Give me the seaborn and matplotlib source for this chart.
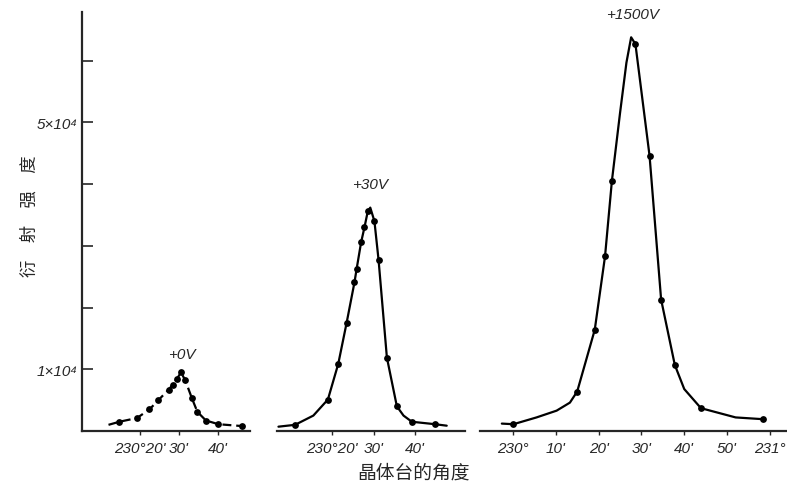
import matplotlib
matplotlib.use("Agg")
import matplotlib.pyplot as plt
import seaborn as sns
import pandas as pd

# values, x in arc-minutes after 230 deg, y in units of 1e4
v0_dot_min = [14.7, 19.2, 22.4, 24.7, 27.3, 28.4, 29.4, 30.5, 31.6, 33.3, 34.7, 36.9, 40.1, 46.1]
v0_dot_val = [0.15, 0.21, 0.35, 0.50, 0.67, 0.75, 0.84, 0.95, 0.82, 0.53, 0.31, 0.17, 0.11, 0.08]
v0_line_min = [11.9, 14.7, 19.2, 22.4, 24.7, 27.3, 28.4, 29.4, 30.5, 31.6, 33.3, 34.7, 36.9, 40.1, 46.1, 47.8]
v0_line_val = [0.10, 0.15, 0.21, 0.35, 0.50, 0.67, 0.75, 0.84, 0.95, 0.82, 0.53, 0.31, 0.17, 0.11, 0.08, 0.06]

v30_dot_min = [11.1, 19.0, 21.5, 23.5, 25.4, 25.9, 27.0, 27.8, 28.6, 30.2, 31.2, 33.2, 35.6, 39.2, 44.8]
v30_dot_val = [0.10, 0.51, 1.09, 1.75, 2.41, 2.62, 3.06, 3.30, 3.56, 3.40, 2.77, 1.19, 0.40, 0.15, 0.11]
v30_line_min = [7.1, 11.1, 15.5, 19.0, 21.5, 23.5, 25.4, 25.9, 27.0, 27.8, 28.6, 29.2, 30.2, 31.2,
                33.2, 35.6, 37.2, 39.2, 44.8, 47.6]
v30_line_val = [0.07, 0.10, 0.25, 0.51, 1.09, 1.75, 2.41, 2.62, 3.06, 3.30, 3.56, 3.62, 3.40, 2.77,
                1.19, 0.40, 0.25, 0.15, 0.11, 0.086]

v1500_dot_min = [0.1, 15.0, 19.1, 21.5, 23.1, 28.6, 31.9, 34.6, 37.8, 43.9, 58.4]
v1500_dot_val = [0.11, 0.64, 1.64, 2.83, 4.05, 6.27, 4.46, 2.13, 1.07, 0.37, 0.19]
v1500_line_min = [-2.6, 0.1, 5.5, 10.2, 13.3, 15.0, 19.1, 21.5, 23.1, 25.0, 26.5, 27.6, 28.6, 31.9,
                  34.6, 37.8, 40.0, 43.9, 52.0, 58.7]
v1500_line_val = [0.12, 0.11, 0.22, 0.33, 0.46, 0.64, 1.64, 2.83, 4.05, 5.15, 5.97, 6.38, 6.27, 4.46,
                  2.13, 1.07, 0.68, 0.37, 0.22, 0.19]

small_ticks = [20, 30, 40]
small_labels = ["230°20'", "30'", "40'"]
big_ticks = [0, 10, 20, 30, 40, 50, 60]
big_labels = ["230°", "10'", "20'", "30'", "40'", "50'", "231°"]
y_ticks = [1, 2, 3, 4, 5, 6]
y_labels = ["1×10⁴", "", "", "", "5×10⁴", ""]

sns.set_theme(style="ticks")
plt.rcParams['font.family'] = ['Liberation Sans', 'DejaVu Sans']

fig = plt.figure(figsize=(7.87, 4.89), dpi=100)
bottom, height = 57 / 489, 419 / 489
ax0 = fig.add_axes([82 / 787, bottom, 168 / 787, height])
ax1 = fig.add_axes([277 / 787, bottom, 188 / 787, height])
ax2 = fig.add_axes([480 / 787, bottom, 307 / 787, height])

panels = [
    (ax0, v0_line_min, v0_line_val, v0_dot_min, v0_dot_val, (5.1, 48.2), small_ticks, small_labels,
     (0, (4, 2.2)), "+0V", 30.8, 1.25),
    (ax1, v30_line_min, v30_line_val, v30_dot_min, v30_dot_val, (6.75, 52.0), small_ticks, small_labels,
     "-", "+30V", 29.2, 4.0),
    (ax2, v1500_line_min, v1500_line_val, v1500_dot_min, v1500_dot_val, (-7.7, 64.0), big_ticks, big_labels,
     "-", "+1500V", 28.0, 6.75),
]

for ax, lx, ly, dx, dy, xlim, ticks, labels, ls, tag, tx, ty in panels:
    line = pd.DataFrame({"m": lx, "v": ly})
    dots = pd.DataFrame({"m": dx, "v": dy})
    sns.lineplot(data=line, x="m", y="v", ax=ax, color="black", linewidth=1.6,
                 linestyle=ls, sort=False, estimator=None)
    sns.scatterplot(data=dots, x="m", y="v", ax=ax, color="black", s=24, edgecolor="black",
                    linewidth=0, zorder=3)
    ax.set_xlim(*xlim)
    ax.set_ylim(0, 6.79)
    ax.set_xticks(ticks)
    ax.set_xticklabels(labels, fontsize=11, style="italic")
    ax.tick_params(axis="x", direction="out", length=3, width=1, pad=4)
    ax.set_xlabel("")
    ax.set_ylabel("")
    ax.text(tx, ty, tag, ha="center", va="center", fontsize=11, style="italic")
    ax.spines["top"].set_visible(False)
    ax.spines["right"].set_visible(False)
    ax.spines["bottom"].set_linewidth(1.6)
    ax.patch.set_alpha(0)
    if ax is ax0:
        ax.set_yticks(y_ticks)
        ax.set_yticklabels(y_labels, fontsize=11, style="italic")
        ax.tick_params(axis="y", direction="in", length=8, width=1.2, pad=3)
        ax.spines["left"].set_linewidth(1.6)
    else:
        ax.spines["left"].set_visible(False)
        ax.set_yticks([])

fig.text(0.038, 0.558, "衍　射　强　度", rotation=90, ha="center", va="center",
         fontsize=12.5, family=['Noto Sans CJK SC', 'DejaVu Sans'])
fig.text(0.525, 0.032, "晶体台的角度", ha="center", va="center",
         fontsize=13.5, family=['Noto Sans CJK SC', 'DejaVu Sans'])

fig.savefig("out.png", dpi=100)
